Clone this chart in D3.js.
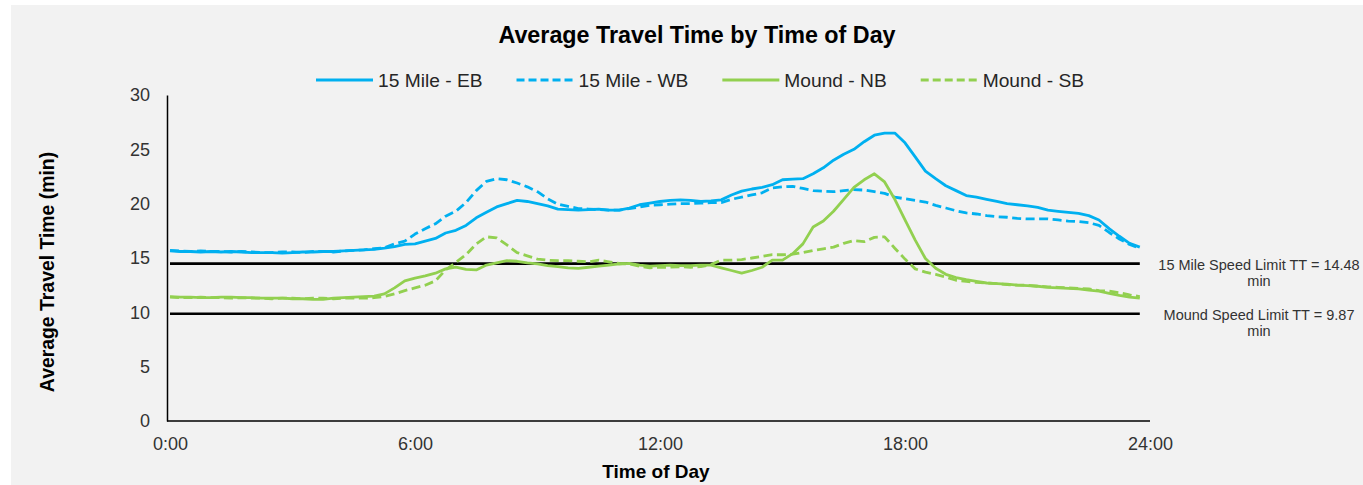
<!DOCTYPE html>
<html>
<head>
<meta charset="utf-8">
<script src="https://cdn.jsdelivr.net/npm/d3@7"></script>
<style>
  body { margin: 0; background: #fff; }
  svg { display: block; font-family: "Liberation Sans", Arial, sans-serif; }
</style>
</head>
<body>
<script>
// time of day in hours, 15 minute steps
const hours = [
  0, 0.25, 0.5, 0.75, 1, 1.25, 1.5, 1.75, 2, 2.25, 2.5, 2.75,
  3, 3.25, 3.5, 3.75, 4, 4.25, 4.5, 4.75, 5, 5.25, 5.5, 5.75,
  6, 6.25, 6.5, 6.75, 7, 7.25, 7.5, 7.75, 8, 8.25, 8.5, 8.75,
  9, 9.25, 9.5, 9.75, 10, 10.25, 10.5, 10.75, 11, 11.25, 11.5, 11.75,
  12, 12.25, 12.5, 12.75, 13, 13.25, 13.5, 13.75, 14, 14.25, 14.5, 14.75,
  15, 15.25, 15.5, 15.75, 16, 16.25, 16.5, 16.75, 17, 17.25, 17.5, 17.75,
  18, 18.25, 18.5, 18.75, 19, 19.25, 19.5, 19.75, 20, 20.25, 20.5, 20.75,
  21, 21.25, 21.5, 21.75, 22, 22.25, 22.5, 22.75, 23, 23.25, 23.5, 23.75
];

const mile15EB = [
  15.65, 15.6, 15.6, 15.55, 15.6, 15.55, 15.6, 15.55, 15.5, 15.5, 15.5, 15.45,
  15.5, 15.55, 15.55, 15.6, 15.6, 15.65, 15.7, 15.75, 15.8, 15.9, 16.05, 16.25,
  16.3, 16.55, 16.8, 17.3, 17.55, 18.0, 18.7, 19.2, 19.7, 20.0, 20.3, 20.2,
  20.0, 19.8, 19.5, 19.45, 19.4, 19.45, 19.5, 19.4, 19.4, 19.6, 19.9, 20.05,
  20.2, 20.3, 20.35, 20.3, 20.2, 20.25, 20.35, 20.8, 21.15, 21.35, 21.5, 21.75,
  22.2, 22.25, 22.3, 22.75, 23.3, 24.0, 24.55, 25.0, 25.7, 26.3, 26.5, 26.5,
  25.6, 24.3, 23.0, 22.3, 21.65, 21.2, 20.75, 20.6, 20.4, 20.2, 20.0, 19.9,
  19.8, 19.65, 19.4, 19.3, 19.2, 19.1, 18.9, 18.5, 17.7, 17.0, 16.35, 16.0
];

const mile15WB = [
  15.7, 15.65, 15.6, 15.65, 15.6, 15.6, 15.55, 15.6, 15.55, 15.5, 15.5, 15.55,
  15.55, 15.5, 15.6, 15.6, 15.55, 15.65, 15.7, 15.75, 15.85, 15.95, 16.3, 16.55,
  17.2, 17.7, 18.15, 18.85, 19.3, 20.1, 21.2, 22.05, 22.3, 22.2, 21.9, 21.55,
  21.1, 20.45, 19.95, 19.75, 19.55, 19.5, 19.45, 19.4, 19.4, 19.55, 19.7, 19.85,
  19.9, 19.95, 20.0, 20.0, 20.05, 20.1, 20.1, 20.4, 20.6, 20.8, 21.0, 21.45,
  21.55, 21.6, 21.4, 21.2, 21.15, 21.1, 21.2, 21.3, 21.25, 21.1, 20.95, 20.6,
  20.45, 20.3, 20.15, 19.85, 19.6, 19.35, 19.15, 19.05, 18.9, 18.8, 18.75, 18.65,
  18.6, 18.6, 18.6, 18.5, 18.4, 18.35, 18.25, 18.0, 17.35, 16.75, 16.25, 15.9
];

const moundNB = [
  11.45, 11.4, 11.4, 11.35, 11.35, 11.4, 11.4, 11.35, 11.35, 11.3, 11.3, 11.3,
  11.25, 11.25, 11.2, 11.2, 11.3, 11.35, 11.4, 11.45, 11.5, 11.7, 12.25, 12.9,
  13.15, 13.35, 13.6, 14.0, 14.15, 13.95, 13.9, 14.35, 14.55, 14.75, 14.7, 14.55,
  14.45, 14.3, 14.2, 14.1, 14.05, 14.15, 14.25, 14.35, 14.45, 14.5, 14.35, 14.25,
  14.3, 14.35, 14.3, 14.3, 14.35, 14.35, 14.1, 13.85, 13.6, 13.85, 14.15, 14.8,
  14.8, 15.4, 16.3, 17.85, 18.4, 19.3, 20.4, 21.5, 22.2, 22.75, 22.0, 20.4,
  18.5, 16.65, 14.95, 14.05, 13.5, 13.2, 13.0, 12.85, 12.7, 12.65, 12.6, 12.5,
  12.45, 12.4, 12.3, 12.25, 12.2, 12.15, 12.05, 11.95, 11.75, 11.55, 11.4, 11.3
];

const moundSB = [
  11.4, 11.35, 11.35, 11.4, 11.35, 11.35, 11.3, 11.35, 11.3, 11.3, 11.25, 11.3,
  11.3, 11.25, 11.3, 11.3, 11.25, 11.3, 11.3, 11.3, 11.35, 11.45, 11.7, 12.0,
  12.25, 12.5, 12.9, 13.9, 14.6, 15.3, 16.3, 16.95, 16.85, 16.2, 15.5, 15.2,
  14.9, 14.8, 14.75, 14.75, 14.7, 14.65, 14.8, 14.65, 14.5, 14.45, 14.25, 14.1,
  14.15, 14.15, 14.2, 14.15, 14.2, 14.4, 14.8, 14.8, 14.85, 15.0, 15.15, 15.3,
  15.3, 15.35, 15.5, 15.7, 15.85, 16.0, 16.35, 16.6, 16.5, 16.9, 16.95, 15.9,
  14.9, 14.0, 13.7, 13.5, 13.25, 12.95, 12.85, 12.75, 12.7, 12.65, 12.55, 12.5,
  12.5, 12.4, 12.35, 12.3, 12.25, 12.2, 12.15, 12.0, 11.95, 11.8, 11.6, 11.45
];

const seriesNames = ["15 Mile - EB", "15 Mile - WB", "Mound - NB", "Mound - SB"];
const seriesColors = ["#00b0f0", "#00b0f0", "#92d050", "#92d050"];
const seriesDashed = [false, true, false, true];

const limitValues = [14.48, 9.87];
const limitLabels = [["15 Mile Speed Limit TT = 14.48", "min"], ["Mound Speed Limit TT = 9.87", "min"]];

const yTicks = [0, 5, 10, 15, 20, 25, 30];
const xTicks = [0, 6, 12, 18, 24];
const xTickLabels = ["0:00", "6:00", "12:00", "18:00", "24:00"];

const W = 1363, H = 485;
const font = '"Liberation Sans", Arial, sans-serif';

const svg = d3.select("body").append("svg")
  .attr("width", W)
  .attr("height", H);

// chart area background
svg.append("rect")
  .attr("x", 11).attr("y", 5)
  .attr("width", W - 11).attr("height", H - 5)
  .attr("fill", "#f2f2f2");

const x = d3.scaleLinear().domain([0, 24]).range([170, 1150]);
const y = d3.scaleLinear().domain([0, 30]).range([421, 95]);

// title
svg.append("text")
  .attr("x", 697).attr("y", 43)
  .attr("text-anchor", "middle")
  .style("font-size", "23.3px").style("font-weight", "bold")
  .attr("fill", "#000")
  .text("Average Travel Time by Time of Day");

// axes: no tick marks, just the lines and labels
const yAxis = d3.axisLeft(y).tickValues(yTicks).tickSize(0).tickPadding(17);
const gy = svg.append("g").attr("transform", "translate(167,0)").call(yAxis);
gy.select(".domain").attr("stroke", "#000").attr("stroke-width", 1.5);
gy.selectAll("text")
  .style("font-size", "18px").style("font-family", font)
  .attr("fill", "#333").attr("dy", "0.33em");

const xAxis = d3.axisBottom(x).tickValues(xTicks).tickSize(0).tickPadding(16)
  .tickFormat((d, i) => xTickLabels[i]);
const gx = svg.append("g").attr("transform", "translate(0,421)").call(xAxis);
gx.select(".domain").attr("stroke", "#000").attr("stroke-width", 1.5)
  .attr("d", "M167,0H1150");
gx.selectAll("text")
  .style("font-size", "18px").style("font-family", font)
  .attr("fill", "#333");

// axis titles
svg.append("text")
  .attr("transform", "translate(54,272) rotate(-90)")
  .attr("text-anchor", "middle")
  .style("font-size", "19.4px").style("font-weight", "bold")
  .text("Average Travel Time (min)");

svg.append("text")
  .attr("x", 656).attr("y", 478)
  .attr("text-anchor", "middle")
  .style("font-size", "19px").style("font-weight", "bold")
  .text("Time of Day");

// speed limit reference lines
limitValues.forEach((v, i) => {
  svg.append("line")
    .attr("x1", x(hours[0])).attr("x2", x(hours[hours.length - 1]))
    .attr("y1", y(v)).attr("y2", y(v))
    .attr("stroke", "#000").attr("stroke-width", 2.6);
  const t = svg.append("text")
    .attr("x", 1259).attr("y", y(v) + 6)
    .attr("text-anchor", "middle")
    .style("font-size", "14.5px")
    .attr("fill", "#333");
  limitLabels[i].forEach((s, j) => {
    t.append("tspan").attr("x", 1259).attr("dy", j === 0 ? 0 : 16.5).text(s);
  });
});

// travel time lines
const allSeries = [mile15EB, mile15WB, moundNB, moundSB];
const line = d3.line()
  .x((d, i) => x(hours[i]))
  .y(d => y(d));

allSeries.forEach((vals, i) => {
  svg.append("path")
    .datum(vals)
    .attr("fill", "none")
    .attr("stroke", seriesColors[i])
    .attr("stroke-width", 2.8)
    .attr("stroke-linejoin", "round")
    .attr("stroke-dasharray", seriesDashed[i] ? "9,4.5" : null)
    .attr("d", line);
});

// legend
const legend = svg.append("g");
let lx = 316;
seriesNames.forEach((name, i) => {
  legend.append("line")
    .attr("x1", lx).attr("x2", lx + 57)
    .attr("y1", 80).attr("y2", 80)
    .attr("stroke", seriesColors[i])
    .attr("stroke-width", 2.8)
    .attr("stroke-dasharray", seriesDashed[i] ? "8,4" : null);
  const t = legend.append("text")
    .attr("x", lx + 62).attr("y", 87)
    .style("font-size", "19.2px")
    .attr("fill", "#262626")
    .text(name);
  lx += 62 + t.node().getComputedTextLength() + 34;
});
</script>
</body>
</html>
